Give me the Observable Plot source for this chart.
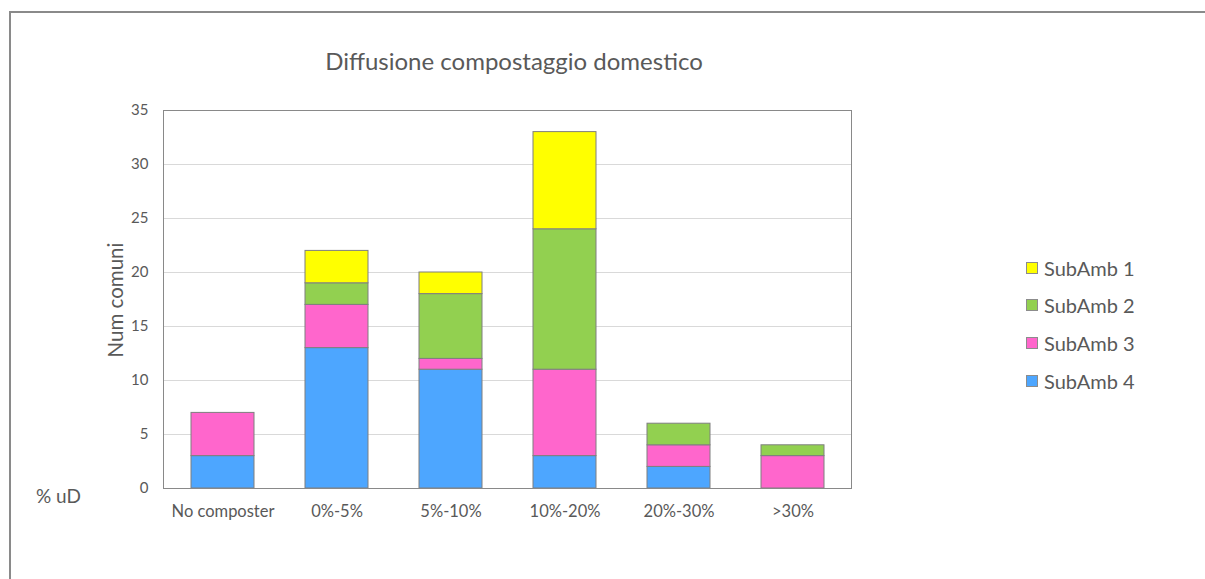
<!DOCTYPE html>
<html>
<head>
<meta charset="utf-8">
<script src="https://cdn.jsdelivr.net/npm/d3@7"></script>
<script src="https://cdn.jsdelivr.net/npm/@observablehq/plot@0.6"></script>
<style>
  html, body { margin: 0; padding: 0; background: #fff; }
  #wrap { position: relative; width: 1205px; height: 579px; font-family: Lato, "Open Sans", sans-serif; color: #595959; overflow: hidden; }
  #wrap svg { position: absolute; left: 0; top: 0; }
  .abs { position: absolute; white-space: nowrap; }
  #border { position: absolute; left: 9px; top: 11px; right: -5px; bottom: -5px; border-left: 2px solid #8a8a8a; border-top: 2px solid #8a8a8a; }
  .lg { position: absolute; left: 1026px; display: flex; align-items: center; font-size: 20px; }
  .lg span.sw { width: 10px; height: 10px; border: 1px solid #8c8c8c; margin-right: 6px; display: inline-block; }
</style>
</head>
<body>
<div id="wrap">
  <div id="border"></div>
</div>
<script>
const categories = ["No composter", "0%-5%", "5%-10%", "10%-20%", "20%-30%", ">30%"];
const seriesNames = ["SubAmb 1", "SubAmb 2", "SubAmb 3", "SubAmb 4"];
const sub1 = [0, 3, 2, 9, 0, 0];
const sub2 = [0, 2, 6, 13, 2, 1];
const sub3 = [4, 4, 1, 8, 2, 3];
const sub4 = [3, 13, 11, 3, 2, 0];
const colors = ["#FFFF00", "#92D050", "#FF66CC", "#4DA6FF"];
const yTicks = [0, 5, 10, 15, 20, 25, 30, 35];

const seriesValues = [sub1, sub2, sub3, sub4];
// bottom to top: SubAmb 4, 3, 2, 1
const data = [];
for (let s = seriesNames.length - 1; s >= 0; s--) {
  categories.forEach((c, i) => {
    const v = seriesValues[s][i];
    if (v > 0) data.push({cat: c, series: seriesNames[s], value: v});
  });
}

const chart = Plot.plot({
  width: 1205,
  height: 579,
  marginLeft: 163,
  marginRight: 354,
  marginTop: 110,
  marginBottom: 91,
  style: {fontFamily: "Lato, 'Open Sans', sans-serif", fontSize: "15px", color: "#595959", background: "transparent"},
  x: {domain: categories, paddingInner: 0.45, paddingOuter: 0.225, label: null},
  y: {domain: [0, 35], label: null},
  color: {domain: seriesNames, range: colors},
  marks: [
    Plot.gridY(yTicks.filter(d => d > 0 && d < 35), {stroke: "#d9d9d9", strokeOpacity: 1, strokeWidth: 1}),
    Plot.barY(data, {x: "cat", y: "value", z: "series", fill: "series", stroke: "#7f7f7f", strokeWidth: 1}),
    Plot.frame({stroke: "#898989", strokeWidth: 1}),
    Plot.axisY(yTicks, {tickSize: 0, tickPadding: 15, fontSize: 15, fill: "#595959"}),
    Plot.axisX({tickSize: 0, tickPadding: 17, fontSize: 16.5, fill: "#595959"})
  ]
});
const wrap = document.getElementById("wrap");
wrap.appendChild(chart);

function addText(txt, left, top, size, extra) {
  const d = document.createElement("div");
  d.className = "abs";
  d.textContent = txt;
  d.style.left = left + "px";
  d.style.top = top + "px";
  d.style.fontSize = size + "px";
  if (extra) Object.assign(d.style, extra);
  wrap.appendChild(d);
  return d;
}
addText("Diffusione compostaggio domestico", 514, 60, 24, {transform: "translate(-50%, -50%)"});
addText("Num comuni", 115, 300, 20.5, {transform: "translate(-50%, -50%) rotate(-90deg)"});
addText("% uD", 36, 495, 19, {transform: "translateY(-50%)"});

const legendY = [268, 305, 343, 381];
seriesNames.forEach((n, i) => {
  const row = document.createElement("div");
  row.className = "lg";
  row.style.top = (legendY[i] - 12) + "px";
  row.style.height = "24px";
  const sw = document.createElement("span");
  sw.className = "sw";
  sw.style.background = colors[i];
  const t = document.createElement("span");
  t.textContent = n;
  row.appendChild(sw);
  row.appendChild(t);
  wrap.appendChild(row);
});
</script>
</body>
</html>
